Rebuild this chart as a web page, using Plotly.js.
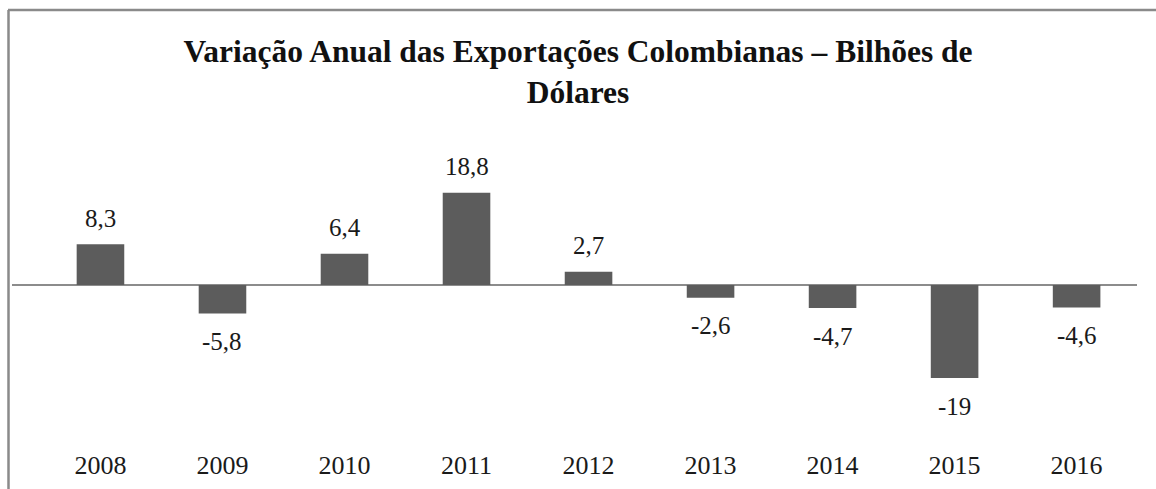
<!DOCTYPE html>
<html>
<head>
<meta charset="utf-8">
<script src="https://cdn.plot.ly/plotly-3.0.1.min.js"></script>
<style>html,body{margin:0;padding:0;background:#fff;}#chart{width:1156px;height:489px;}</style>
</head>
<body>
<div id="chart"></div>
<script>
const years = ["2008","2009","2010","2011","2012","2013","2014","2015","2016"];
const values = [8.3, -5.8, 6.4, 18.8, 2.7, -2.6, -4.7, -19, -4.6];
const valueLabels = ["8,3","-5,8","6,4","18,8","2,7","-2,6","-4,7","-19","-4,6"];

const serif = "Liberation Serif";

const annotations = values.map((v, i) => ({
  x: i, y: v, xref: 'x', yref: 'y',
  text: valueLabels[i], showarrow: false,
  xanchor: 'center', yanchor: 'middle',
  yshift: v >= 0 ? 26 : -28,
  font: {family: serif, size: 25, color: '#1a1a1a'}
}));

const trace = {
  type: 'bar', x: years, y: values,
  marker: {color: '#5c5c5c', line: {width: 0}},
  hoverinfo: 'skip'
};

const layout = {
  width: 1156, height: 489,
  font: {family: serif, color: '#1a1a1a'},
  paper_bgcolor: '#ffffff', plot_bgcolor: '#ffffff',
  margin: {l: 12, r: 19, t: 130, b: 42},
  showlegend: false,
  bargap: 0.61,
  title: {
    text: "<b>Variação Anual das Exportações Colombianas – Bilhões de<br>Dólares</b>",
    font: {family: serif, size: 31.5, color: '#111'},
    x: 0.5, xref: 'container', xanchor: 'center',
    y: 1 - 62/489, yref: 'container', yanchor: 'top'
  },
  xaxis: {
    type: 'category', range: [-0.725, 8.495],
    showgrid: false, zeroline: false, showline: false, ticks: '',
    tickfont: {family: serif, size: 26, color: '#1a1a1a'},
    fixedrange: true
  },
  yaxis: {
    range: [-33.06, 31.63],
    showgrid: false, showticklabels: false, ticks: '',
    zeroline: true, zerolinecolor: '#8c8c8c', zerolinewidth: 2,
    fixedrange: true
  },
  annotations: annotations,
  shapes: [
    {type: 'line', xref: 'paper', yref: 'paper', x0: -4/1125, x1: 1.05, y0: 1 + 120/317, y1: 1 + 120/317, line: {color: '#8a8a8a', width: 2.5}},
    {type: 'line', xref: 'paper', yref: 'paper', x0: -3.5/1125, x1: -3.5/1125, y0: 1 + 120/317, y1: -60/317, line: {color: '#8a8a8a', width: 2.5}}
  ]
};

Plotly.newPlot('chart', [trace], layout, {displayModeBar: false, staticPlot: true});
</script>
</body>
</html>
